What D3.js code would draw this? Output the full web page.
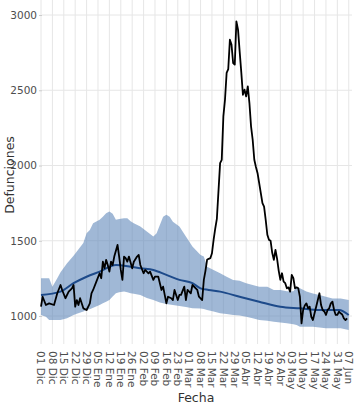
<!DOCTYPE html>
<html><head><meta charset="utf-8">
<script src="https://cdn.jsdelivr.net/npm/d3@7"></script>
<style>body{margin:0;background:#fff}svg{display:block}</style>
</head><body>
<svg id="c" width="360" height="407"></svg>
<script>
// Days counted from the first date (2019-12-01)
const startDate = "2019-12-01";
const endDate = "2020-06-09";
const obsDays = [0,1,3,5,8,10,12,13,15,17,19,20,21,22,23,24,26,28,30,31,32,34,36,37,38,39,40,41,42,43,44,45,47,48,49,50,51,52,53,54,56,57,59,60,61,63,64,66,67,69,70,72,73,74,75,77,78,80,81,82,84,85,86,88,89,90,92,93,96,97,99,100,101,102,103,104,105,106,107,108,110,111,112,113,114,115,116,117,118,119,120,121,122,123,124,125,126,127,128,129,130,131,132,133,134,135,136,137,138,139,140,141,142,143,144,145,146,147,148,149,150,151,152,153,154,155,156,157,158,159,160,161,162,163,164,165,166,167,168,169,170,171,172,173,174,175,176,177,178,179,180,181,182,183,184,185,186,187,188];
const obsValues = [1062,1128,1073,1084,1073,1151,1206,1173,1118,1162,1184,1206,1062,1106,1073,1118,1051,1040,1084,1151,1173,1228,1284,1251,1361,1317,1373,1339,1295,1361,1339,1395,1472,1395,1306,1240,1395,1384,1361,1395,1317,1361,1395,1406,1339,1284,1306,1284,1295,1240,1262,1262,1218,1173,1195,1084,1128,1118,1106,1173,1106,1140,1140,1195,1106,1173,1151,1206,1173,1128,1106,1240,1300,1373,1380,1384,1417,1506,1580,1645,2016,2038,2326,2437,2615,2640,2836,2803,2681,2670,2958,2903,2758,2620,2470,2504,2459,2526,2415,2260,2171,2038,1990,1949,1883,1816,1750,1727,1639,1540,1506,1500,1420,1373,1439,1380,1300,1240,1284,1228,1218,1184,1190,1162,1273,1251,1184,1190,1184,1128,951,1040,1070,1084,1051,1062,995,973,1018,1062,1106,1151,1073,1040,1030,1007,1040,1051,1084,1095,1040,1007,1007,1029,1018,1010,984,973,984];

const expDays = [0,12,20,28,36,46,55,61,69,77,85,93,98,103,110,122,134,147,159,171,183,189];
const expValues = [1140,1162,1218,1261,1295,1339,1328,1317,1306,1273,1240,1218,1184,1173,1162,1128,1095,1062,1051,1040,1040,1007];

const bandDays = [0,3,5,7,10,12,16,20,22,26,28,30,32,36,38,40,42,44,46,48,51,53,55,57,61,65,69,71,73,75,77,79,81,85,89,93,98,100,102,106,110,114,118,122,126,130,134,139,143,147,151,155,157,159,163,167,171,175,179,184,189];
const bandUpper = [1251,1251,1251,1195,1251,1290,1350,1400,1428,1485,1550,1572,1617,1639,1660,1683,1694,1680,1639,1645,1650,1650,1630,1617,1594,1561,1528,1550,1605,1660,1672,1660,1627,1594,1528,1461,1406,1395,1328,1306,1284,1261,1240,1235,1218,1206,1195,1195,1173,1173,1165,1165,1195,1185,1162,1150,1140,1128,1117,1117,1106];
const bandLower = [1007,995,973,973,973,973,985,1007,1015,1030,1040,1045,1055,1073,1085,1095,1106,1130,1151,1158,1162,1158,1151,1148,1140,1120,1106,1098,1090,1084,1080,1076,1073,1066,1060,1051,1050,1046,1040,1030,1018,1013,1007,1003,995,985,973,968,962,957,951,945,940,929,929,929,924,918,918,918,907];

const yTicks = [1000,1500,2000,2500,3000];
const monthAbbr = ["Ene","Feb","Mar","Abr","May","Jun","Jul","Ago","Sep","Oct","Nov","Dic"];

const svg = d3.select("#c");
const parse = d3.utcParse("%Y-%m-%d");
const t0 = parse(startDate);
const dayDate = d => d3.utcDay.offset(t0, d);

const x = d3.scaleUtc().domain([t0, parse(endDate)]).range([41, 352]);
const y = d3.scaleLinear().domain([1000, 3000]).range([316, 15]);
const pTop = 0, pBottom = 344, pLeft = 42, pRight = 352;

const font = "DejaVu Sans, sans-serif";
const grid = svg.append("g");
const weekTicks = d3.utcSunday.range(t0, d3.utcDay.offset(parse(endDate), 1));
grid.selectAll("line.v").data(weekTicks).join("line")
  .attr("x1", d => x(d)).attr("x2", d => x(d)).attr("y1", pTop).attr("y2", pBottom)
  .attr("stroke", "#e6e6e6").attr("stroke-width", 1);
grid.selectAll("line.h").data(yTicks).join("line")
  .attr("x1", pLeft).attr("x2", pRight).attr("y1", d => y(d)).attr("y2", d => y(d))
  .attr("stroke", "#e6e6e6").attr("stroke-width", 1);

// Band
const band = bandDays.map((d, i) => ({date: dayDate(d), lo: bandLower[i], hi: bandUpper[i]}));
svg.append("path").datum(band)
  .attr("d", d3.area().x(d => x(d.date)).y0(d => y(d.lo)).y1(d => y(d.hi)))
  .attr("fill", "#5b84b8").attr("fill-opacity", 0.58);

// Expected
const exp = expDays.map((d, i) => ({date: dayDate(d), v: expValues[i]}));
svg.append("path").datum(exp)
  .attr("d", d3.line().x(d => x(d.date)).y(d => y(d.v)).curve(d3.curveMonotoneX))
  .attr("fill", "none").attr("stroke", "#1d4a8a").attr("stroke-width", 2);

// Observed
const obs = obsDays.map((d, i) => ({date: dayDate(d), v: obsValues[i]}));
svg.append("path").datum(obs)
  .attr("d", d3.line().x(d => x(d.date)).y(d => y(d.v)))
  .attr("fill", "none").attr("stroke", "#000").attr("stroke-width", 1.8)
  .attr("stroke-linejoin", "round");

// Y axis
const yAxis = svg.append("g").attr("transform", `translate(${pLeft},0)`)
  .call(d3.axisLeft(y).tickValues(yTicks).tickSize(3).tickPadding(2).tickFormat(d3.format("d")));
yAxis.select(".domain").remove();
yAxis.selectAll("line").attr("stroke", "#cccccc");
yAxis.selectAll("text").attr("fill", "#4d4d4d").style("font-family", font).style("font-size", "10.5px");

// X axis labels
const fmt = d => d3.utcFormat("%d")(d) + " " + monthAbbr[d.getUTCMonth()];
const xl = svg.append("g");
xl.selectAll("text").data(weekTicks).join("text")
  .attr("transform", d => `translate(${x(d)},351) rotate(90)`)
  .attr("dy", "0.35em")
  .attr("text-anchor", "start")
  .attr("fill", "#4d4d4d").style("font-family", font).style("font-size", "10.5px")
  .text(fmt);

svg.append("text").attr("x", 196).attr("y", 402).attr("text-anchor", "middle")
  .attr("fill", "#333").style("font-family", font).style("font-size", "12.5px").text("Fecha");
svg.append("text").attr("transform", "translate(14,175) rotate(-90)").attr("text-anchor", "middle")
  .attr("fill", "#333").style("font-family", font).style("font-size", "12.5px").text("Defunciones");
</script>
</body></html>
